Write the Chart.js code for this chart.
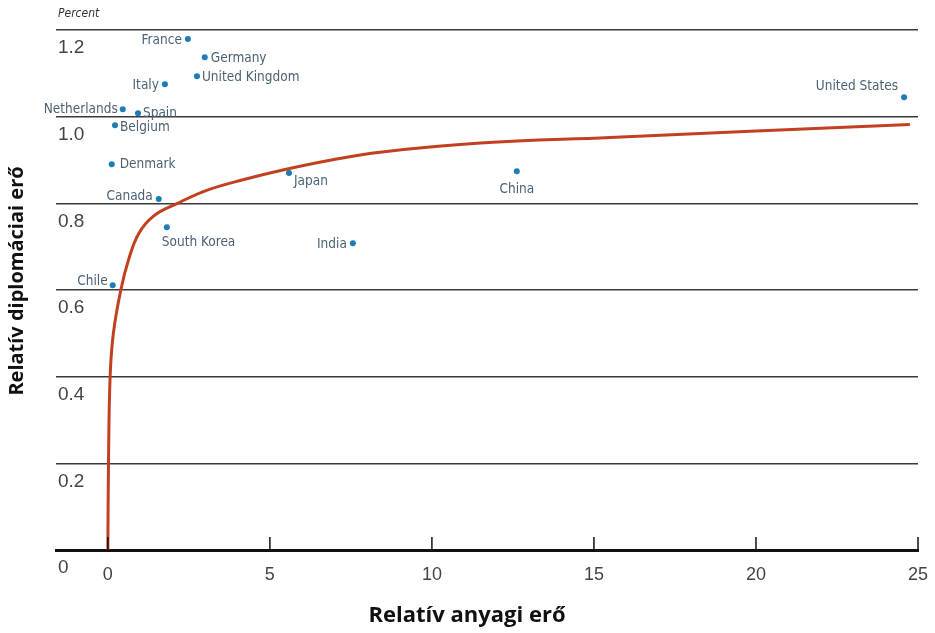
<!DOCTYPE html>
<html>
<head>
<meta charset="utf-8">
<script src="https://cdn.jsdelivr.net/npm/chart.js@4.4.0/dist/chart.umd.min.js"></script>
<style>
  html, body { margin: 0; padding: 0; background: #fff; }
  #wrap { width: 935px; height: 633px; }
</style>
</head>
<body>
<div id="wrap"><canvas id="chart"></canvas></div>
<script>
// data
const countries = ['France', 'Germany', 'United Kingdom', 'Italy', 'Netherlands', 'Spain', 'Belgium',
  'Denmark', 'Canada', 'South Korea', 'Chile', 'Japan', 'India', 'China', 'United States'];
const materialPower = [2.47, 2.99, 2.75, 1.76, 0.46, 0.93, 0.22, 0.12, 1.57, 1.82, 0.15, 5.59, 7.56, 12.62, 24.57];
const diplomaticPower = [1.179, 1.137, 1.093, 1.075, 1.017, 1.008, 0.980, 0.890, 0.810, 0.745, 0.611, 0.870, 0.708, 0.874, 1.045];

// fitted curve, points
const curveX = [0.0, 0.02, 0.07, 0.17, 0.40, 0.64, 0.95, 1.40, 2.15, 3.05, 4.20, 5.40, 6.90, 8.40, 11.50, 15.50, 20.00, 24.75];
const curveY = [0.0, 0.20, 0.40, 0.50, 0.60, 0.67, 0.73, 0.77, 0.80, 0.83, 0.855, 0.877, 0.90, 0.918, 0.939, 0.952, 0.967, 0.982];

const xTicks = [0, 5, 10, 15, 20, 25];
const yTicks = [0, 0.2, 0.4, 0.6, 0.8, 1.0, 1.2];
const yTickLabels = ['0', '0.2', '0.4', '0.6', '0.8', '1.0', '1.2'];

const xTitle = 'Relatív anyagi erő';
const yTitle = 'Relatív diplomáciai erő';

// where each country name sits next to its dot: [textAlign, dx, dy]
const labelPlace = {
  'France': ['right', -6, 1],
  'Germany': ['left', 6, 1],
  'United Kingdom': ['left', 5, 1],
  'Italy': ['right', -6, 1],
  'Netherlands': ['right', -5, 0],
  'Spain': ['left', 5, 0],
  'Belgium': ['left', 5, 2],
  'Denmark': ['left', 8, 0],
  'Canada': ['right', -6, -3],
  'South Korea': ['left', -5, 15],
  'Chile': ['right', -5, -4],
  'Japan': ['left', 5, 8],
  'India': ['right', -6, 1],
  'China': ['center', 0, 18],
  'United States': ['right', -6, -11]
};

const labelFont = '13.5px "DejaVu Sans Condensed", "Liberation Sans Narrow", sans-serif';

// country names beside the dots
const pointLabels = {
  id: 'pointLabels',
  afterDatasetsDraw(chart) {
    const ctx = chart.ctx;
    const meta = chart.getDatasetMeta(1);
    ctx.save();
    ctx.font = labelFont;
    ctx.fillStyle = '#4b6275';
    ctx.textBaseline = 'middle';
    meta.data.forEach((pt, i) => {
      const p = labelPlace[countries[i]];
      ctx.textAlign = p[0];
      ctx.fillText(countries[i], pt.x + p[1], pt.y + p[2]);
    });
    ctx.restore();
  }
};

// upward tick marks on the x axis, "Percent" caption and the two axis titles
const extras = {
  id: 'extras',
  afterDraw(chart) {
    const ctx = chart.ctx;
    const x = chart.scales.x;
    const area = chart.chartArea;
    ctx.save();
    ctx.strokeStyle = '#111';
    ctx.lineWidth = 1.5;
    x.ticks.forEach(t => {
      const px = x.getPixelForValue(t.value);
      ctx.beginPath();
      ctx.moveTo(px, area.bottom - 13);
      ctx.lineTo(px, area.bottom);
      ctx.stroke();
    });
    ctx.font = 'italic 12px "DejaVu Sans Condensed", sans-serif';
    ctx.fillStyle = '#333';
    ctx.textAlign = 'left';
    ctx.textBaseline = 'middle';
    ctx.fillText('Percent', area.left + 2, 14);

    ctx.fillStyle = '#111';
    ctx.textAlign = 'center';
    ctx.font = 'bold 22px "Open Sans", sans-serif';
    ctx.fillText(xTitle, 467, 616);
    ctx.translate(17, 281);
    ctx.rotate(-Math.PI / 2);
    ctx.font = 'bold 20px "Open Sans", sans-serif';
    ctx.fillText(yTitle, 0, 0);
    ctx.restore();
  }
};

new Chart(document.getElementById('chart'), {
  type: 'scatter',
  data: {
    datasets: [
      {
        label: 'curve',
        data: curveX.map((v, i) => ({ x: v, y: curveY[i] })),
        showLine: true,
        borderColor: '#c2401f',
        borderWidth: 3,
        pointRadius: 0,
        tension: 0.4,
        fill: false
      },
      {
        label: 'countries',
        data: materialPower.map((v, i) => ({ x: v, y: diplomaticPower[i] })),
        backgroundColor: '#1b7db3',
        borderWidth: 0,
        pointRadius: 3
      }
    ]
  },
  options: {
    responsive: true,
    maintainAspectRatio: false,
    animation: false,
    events: [],
    layout: { padding: { left: 0, right: 17, top: 30, bottom: 0 } },
    plugins: {
      legend: { display: false },
      tooltip: { enabled: false }
    },
    scales: {
      x: {
        type: 'linear',
        min: -1.6,
        max: 25,
        afterBuildTicks: s => { s.ticks = xTicks.map(v => ({ value: v })); },
        afterFit: s => { s.height = 83; s.paddingRight = 0; s.paddingLeft = 0; },
        grid: { display: false, drawTicks: false },
        border: { display: true, color: '#111', width: 3 },
        ticks: {
          color: '#444',
          padding: 14,
          font: { family: 'Liberation Sans', size: 18 },
          callback: v => String(v)
        }
      },
      y: {
        type: 'linear',
        min: 0,
        max: 1.2,
        afterBuildTicks: s => { s.ticks = yTicks.map(v => ({ value: v })); },
        afterFit: s => { s.width = 56; },
        grid: { color: '#3a3a3a', lineWidth: 1.5, drawTicks: false },
        border: { display: false },
        ticks: {
          mirror: true,
          padding: 2,
          labelOffset: 18,
          color: '#444',
          font: { family: 'Liberation Sans', size: 19 },
          callback: v => yTickLabels[yTicks.indexOf(v)]
        }
      }
    }
  },
  plugins: [pointLabels, extras]
});
</script>
</body>
</html>
